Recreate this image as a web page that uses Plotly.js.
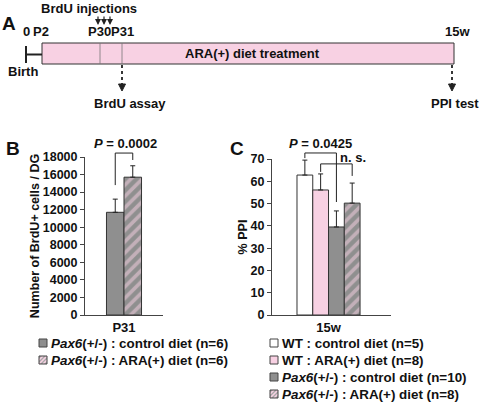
<!DOCTYPE html>
<html><head><meta charset="utf-8">
<script src="https://cdn.plot.ly/plotly-3.0.1.min.js"></script>
<style>html,body{margin:0;padding:0;background:#fff}#chart{width:481px;height:402px}</style>
</head><body><div id="chart"></div>
<script>
// ---------- Panel B data ----------
const bCategory = ['P31'];
const bNames = ['<i>Pax6</i>(+/-) : control diet (n=6)', '<i>Pax6</i>(+/-) : ARA(+) diet (n=6)'];
const bValues = [11700, 15700];
const bErrors = [1500, 1300];
const bTickVals = [0, 2000, 4000, 6000, 8000, 10000, 12000, 14000, 16000, 18000];
const bYTitle = 'Number of BrdU+ cells / DG';
const bPText = '<i>P</i> = 0.0002';
// ---------- Panel C data ----------
const cCategory = ['15w'];
const cNames = ['WT : control diet (n=5)', 'WT : ARA(+) diet (n=8)', '<i>Pax6</i>(+/-) : control diet (n=10)', '<i>Pax6</i>(+/-) : ARA(+) diet (n=8)'];
const cValues = [62.8, 56.1, 39.5, 50.2];
const cErrors = [6.7, 7.2, 7.2, 9.0];
const cTickVals = [0, 10, 20, 30, 40, 50, 60, 70];
const cYTitle = '% PPI';
const cPText = '<i>P</i> = 0.0425';
const cNSText = 'n. s.';
// ---------- Panel A (timeline) labels ----------
const timelineLabels = ['0', 'P2', 'P30', 'P31', '15w'];
const timelineTitle = 'ARA(+) diet treatment';
const injectionText = 'BrdU injections';
const birthText = 'Birth';
const assayTexts = ['BrdU assay', 'PPI test'];
const panelLetters = ['A', 'B', 'C'];

// ---------- styles ----------
const W = 481, H = 402;
const FONT = 'Liberation Sans, Arial, Helvetica, sans-serif';
const PINK = '#f8d1e3', GRAY = '#8f8f8f', WHITE = '#ffffff', EDGE = '#333333';
const bColors = [GRAY, GRAY];
const bPatterns = ['', '/'];
const cColors = [WHITE, PINK, GRAY, GRAY];
const cPatterns = ['', '', '', '/'];
const BARGAP = 0.47;

const px = x => x / W;
const py = y => 1 - y / H;

const domB = {x: [px(85), px(163)], y: [py(315), py(157)]};
const domC = {x: [px(272), px(391)], y: [py(315), py(159)]};
const rangeBX = [-0.59, 0.59], rangeBY = [0, 18000];
const rangeCX = [-0.475, 0.525], rangeCY = [0, 70];

function mapX(dom, r, v) { return dom.x[0] + (v - r[0]) / (r[1] - r[0]) * (dom.x[1] - dom.x[0]); }
function mapY(dom, r, v) { return dom.y[0] + (v - r[0]) / (r[1] - r[0]) * (dom.y[1] - dom.y[0]); }
function barCenter(i, n) { const gw = 1 - BARGAP; return -gw / 2 + (i + 0.5) * gw / n; }

function makeBar(cat, name, val, err, color, pat, xa, ya) {
  const marker = {color: color, line: {color: EDGE, width: 1}};
  if (pat) marker.pattern = {shape: pat, bgcolor: color, fgcolor: PINK, size: 8, solidity: 0.45, fillmode: 'overlay'};
  return {
    type: 'bar', x: cat, y: [val], name: name, xaxis: xa, yaxis: ya, showlegend: false,
    marker: marker,
    error_y: {type: 'data', array: [err], arrayminus: [0], symmetric: false, color: '#222', thickness: 1, width: 2.5},
    hoverinfo: 'skip'
  };
}

const traces = [];
bValues.forEach((v, i) => traces.push(makeBar(bCategory, bNames[i], v, bErrors[i], bColors[i], bPatterns[i], 'x', 'y')));
cValues.forEach((v, i) => traces.push(makeBar(cCategory, cNames[i], v, cErrors[i], cColors[i], cPatterns[i], 'x2', 'y2')));

const tickFont = {family: FONT, size: 12.5, color: '#111', weight: 'bold'};
function yAxis(dom, range, ticks, title, standoff, anchor) {
  return {
    domain: dom.y, range: range, tickvals: ticks, tickformat: 'd', ticks: 'outside', ticklen: 4, tickwidth: 1,
    tickcolor: '#444', showline: true, linecolor: '#444', linewidth: 1, showgrid: false, zeroline: false,
    tickfont: tickFont, automargin: false, fixedrange: true, anchor: anchor,
    title: {text: title, font: {family: FONT, size: 12.5, color: '#111', weight: 'bold'}, standoff: standoff}
  };
}
function xAxis(dom, range, anchor) {
  return {
    domain: dom.x, range: range, type: 'category', anchor: anchor, showline: true, linecolor: '#444', linewidth: 1,
    ticks: '', showgrid: false, zeroline: false, automargin: false, fixedrange: true,
    tickfont: {family: FONT, size: 13, color: '#111', weight: 'bold'}
  };
}

const shapes = [];
const annotations = [];
function line(x0, y0, x1, y1, color, width, dash) {
  shapes.push({type: 'line', xref: 'paper', yref: 'paper', x0: x0, y0: y0, x1: x1, y1: y1,
    line: {color: color, width: width, dash: dash || 'solid'}});
}
function text(t, x, y, size, opts) {
  annotations.push(Object.assign({text: t, x: x, y: y, xref: 'paper', yref: 'paper', showarrow: false,
    xanchor: 'center', yanchor: 'middle', font: {family: FONT, size: size, color: '#111', weight: 'bold'}}, opts || {}));
}

// ----- Panel A timeline -----
shapes.push({type: 'rect', xref: 'paper', yref: 'paper', x0: px(42), x1: px(454), y0: py(64), y1: py(43),
  fillcolor: PINK, line: {color: EDGE, width: 1}});
line(px(100), py(43), px(100), py(64), '#777', 0.8);
line(px(122), py(43), px(122), py(64), '#777', 0.8);
line(px(26), py(46), px(26), py(63), '#222', 2);
line(px(26), py(54.5), px(42), py(54.5), '#222', 2);
text(timelineTitle, px(252), py(54), 13);
text(timelineLabels[0], px(26), py(32), 13);
text(timelineLabels[1], px(41), py(32), 13);
text(timelineLabels[2], px(99.5), py(32), 13);
text(timelineLabels[3], px(122.5), py(32), 13);
text(timelineLabels[4], px(457), py(32), 13);
text(birthText, px(23), py(72), 13);
text(injectionText, px(89), py(8), 13);
[98, 104, 110].forEach(x => annotations.push({text: '', x: px(x), y: py(25), xref: 'paper', yref: 'paper',
  showarrow: true, ax: 0, ay: -10, arrowhead: 2, arrowsize: 1, arrowwidth: 1.2, arrowcolor: '#222'}));
[122, 452].forEach((x, i) => {
  line(px(x), py(65), px(x), py(85), '#222', 1.8, 'dot');
  shapes.push({type: 'path', xref: 'paper', yref: 'paper', fillcolor: '#222', line: {color: '#222', width: 1},
    path: `M${px(x - 3.5)},${py(84)} L${px(x + 3.5)},${py(84)} L${px(x)},${py(91)} Z`});
});
text(assayTexts[0], px(129.5), py(103), 13);
text(assayTexts[1], px(455), py(103), 13);

// panel letters
text(panelLetters[0], px(9), py(24), 19);
text(panelLetters[1], px(13), py(148), 19);
text(panelLetters[2], px(237), py(148), 19);

// ----- Panel B bracket -----
{
  const xl = mapX(domB, rangeBX, barCenter(0, 2)), xr = mapX(domB, rangeBX, barCenter(1, 2));
  const yt = mapY(domB, rangeBY, 18450), yl = mapY(domB, rangeBY, 14800), yr = mapY(domB, rangeBY, 17660);
  line(xl, yl, xl, yt, '#222', 1); line(xl, yt, xr, yt, '#222', 1); line(xr, yt, xr, yr, '#222', 1);
  text(bPText, (xl + xr) / 2 + px(1.5), py(143), 13);
}
// ----- Panel C brackets -----
{
  const x0 = mapX(domC, rangeCX, barCenter(0, 4)), x1 = mapX(domC, rangeCX, barCenter(1, 4));
  const x2 = mapX(domC, rangeCX, barCenter(2, 4)), x3 = mapX(domC, rangeCX, barCenter(3, 4));
  const yt = mapY(domC, rangeCY, 72.7), yl = mapY(domC, rangeCY, 70.4), yr = mapY(domC, rangeCY, 50.7);
  line(x0, yl, x0, yt, '#222', 1); line(x0, yt, x2, yt, '#222', 1); line(x2, yt, x2, yr, '#222', 1);
  const yt2 = mapY(domC, rangeCY, 67.8), yl2 = mapY(domC, rangeCY, 64.2), yr2 = mapY(domC, rangeCY, 62.4);
  line(x1, yl2, x1, yt2, '#222', 1); line(x1, yt2, x3, yt2, '#222', 1); line(x3, yt2, x3, yr2, '#222', 1);
  text(cPText, (x0 + x2) / 2, py(143), 13);
  text(cNSText, px(353), py(157), 13);
}

// ----- legends (built from names / colours) -----
function legendEntry(x, y, name, color, pat) {
  const s = 8, x0 = x, y0 = y - s / 2;
  shapes.push({type: 'rect', xref: 'paper', yref: 'paper', x0: px(x0), x1: px(x0 + s), y0: py(y0 + s), y1: py(y0),
    fillcolor: pat ? '#a8a8a8' : color, line: {width: 0}});
  if (pat) {
    [[0, 4, 4, 0], [0, 8, 8, 0], [4, 8, 8, 4]].forEach(d =>
      line(px(x0 + d[0]), py(y0 + d[1]), px(x0 + d[2]), py(y0 + d[3]), PINK, 1.6));
  }
  shapes.push({type: 'rect', xref: 'paper', yref: 'paper', x0: px(x0), x1: px(x0 + s), y0: py(y0 + s), y1: py(y0),
    fillcolor: 'rgba(0,0,0,0)', line: {color: '#444', width: 1}});
  text(name, px(x + 10), py(y), 13.4, {xanchor: 'left'});
}
const rowGap = 17;
bNames.forEach((n, i) => legendEntry(39, 343 + i * rowGap, n, bColors[i], bPatterns[i]));
cNames.forEach((n, i) => legendEntry(270, 343 + i * rowGap, n, cColors[i], cPatterns[i]));

const layout = {
  width: W, height: H, margin: {l: 0, r: 0, t: 0, b: 0}, paper_bgcolor: '#fff', plot_bgcolor: 'rgba(0,0,0,0)',
  font: {family: FONT, size: 13, color: '#111', weight: 'bold'},
  barmode: 'group', bargap: BARGAP, bargroupgap: 0, showlegend: false,
  xaxis: xAxis(domB, rangeBX, 'y'),
  yaxis: yAxis(domB, rangeBY, bTickVals, bYTitle, 0, 'x'),
  xaxis2: xAxis(domC, rangeCX, 'y2'),
  yaxis2: yAxis(domC, rangeCY, cTickVals, cYTitle, 0, 'x2'),
  shapes: shapes, annotations: annotations
};
Plotly.newPlot('chart', traces, layout, {displayModeBar: false, staticPlot: true});
</script></body></html>
